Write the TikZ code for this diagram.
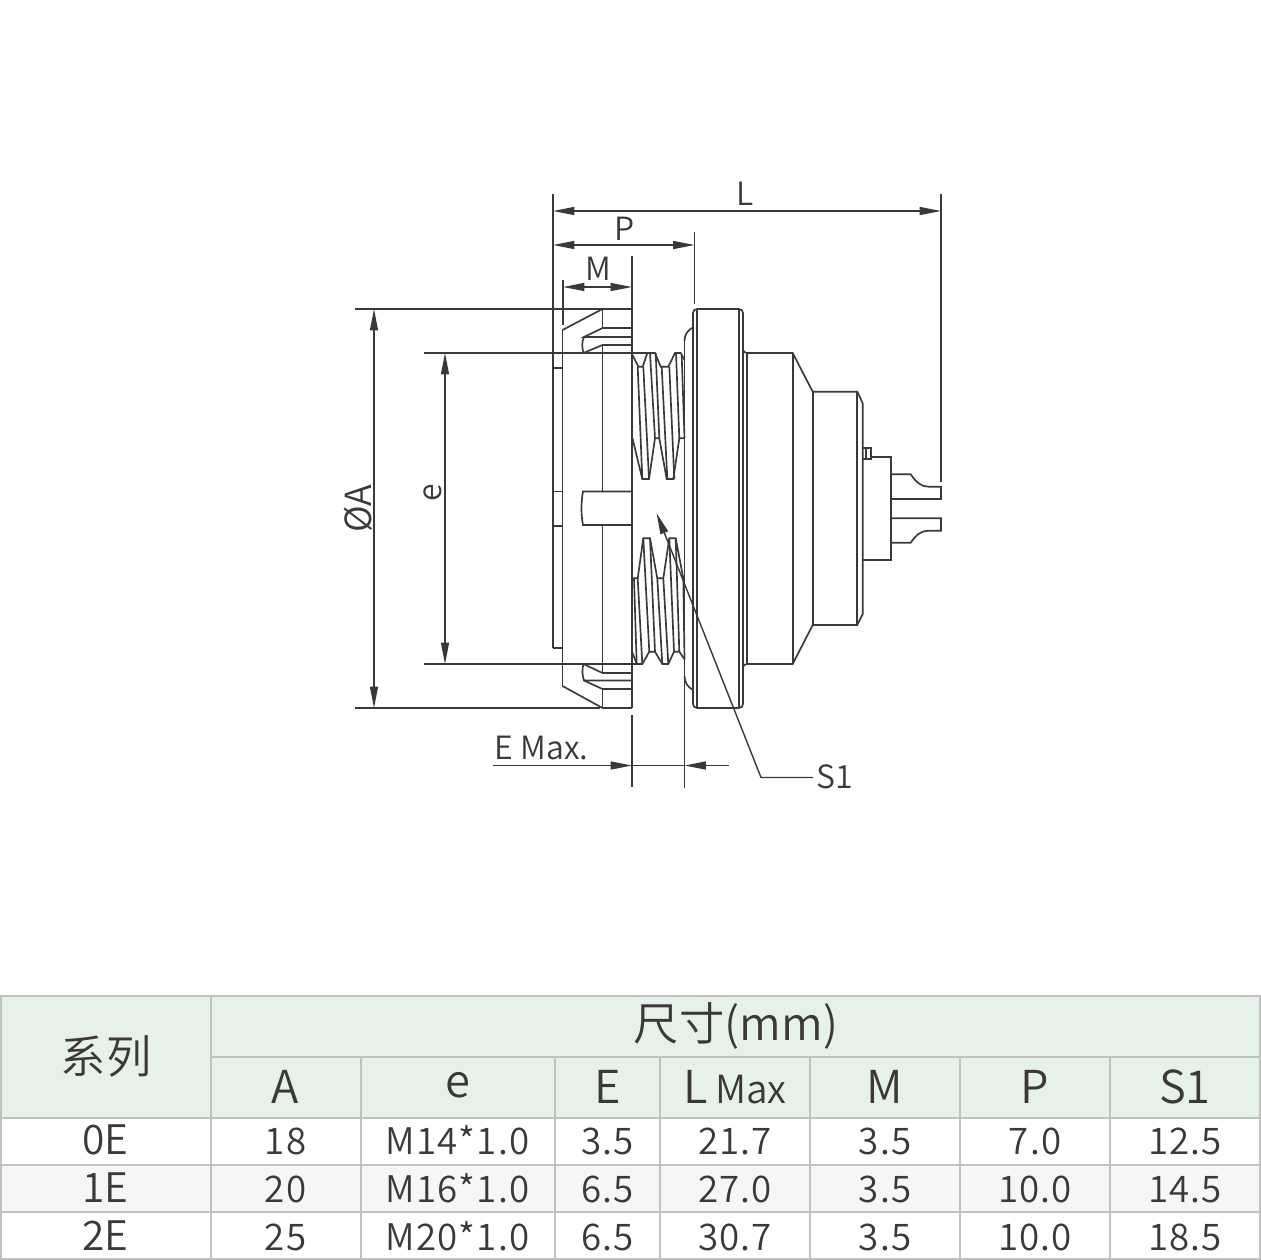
\documentclass[tikz,border=0pt]{standalone}
\usepackage{fontspec}
\setmainfont{Noto Sans CJK SC}[UprightFont=* DemiLight]
\usetikzlibrary{arrows.meta}
\definecolor{inkline}{RGB}{58,56,56}
\definecolor{gridline}{RGB}{192,194,193}
\definecolor{headfill}{RGB}{230,241,233}
\definecolor{rowfill}{RGB}{246,246,246}
\tikzset{
  partline/.style={draw=inkline,line width=1.25pt,line join=miter},
  extline/.style={draw=inkline,line width=1.05pt},
  dimline/.style={draw=inkline,line width=1.05pt,{Triangle[length=16pt,width=6pt]}-{Triangle[length=16pt,width=6pt]}},
  arrowend/.style={draw=inkline,line width=1.05pt,-{Triangle[length=16pt,width=6pt]}},
  dimtext/.style={inner sep=0pt,text=inkline,font=\fontsize{24}{28}\selectfont},
  celltext/.style={inner sep=0pt,anchor=base,text=inkline,font=\fontsize{27.5}{32}\selectfont\addfontfeatures{LetterSpace=3}},
  rowtext/.style={inner sep=0pt,anchor=base,text=inkline,font=\fontsize{30.5}{36}\selectfont},
  headtext/.style={inner sep=0pt,anchor=base,text=inkline,font=\fontsize{34}{38}\selectfont},
  gridrule/.style={draw=gridline,line width=1.5pt}
}
\begin{document}
\begin{tikzpicture}[x=0.75pt,y=0.75pt,yscale=-1,xscale=1]
\useasboundingbox (0,0) rectangle (1261,1260);
%Dimension Ends
\coordinate (lLeft) at (553,211);
\coordinate (lRight) at (941,211);
\coordinate (pLeft) at (553,245);
\coordinate (pRight) at (694.5,245);
\coordinate (mLeft) at (563,287);
\coordinate (mRight) at (632,287);
\coordinate (aTop) at (374,309);
\coordinate (aBottom) at (374,708);
\coordinate (eTop) at (445,353);
\coordinate (eBottom) at (445,664);
\coordinate (emaxStart) at (493,765.5);
\coordinate (emaxLeft) at (632,765.5);
\coordinate (emaxRight) at (684.5,765.5);
\coordinate (emaxEnd) at (729,765.5);
\coordinate (sTail) at (813,777.5);
\coordinate (sBend) at (761,777.5);
\coordinate (sTip) at (656.5,513);
%Extension Lines
\draw [extline] (553,194) -- (553,648);
\draw [extline] (941,194) -- (941,482);
\draw [extline] (694.5,232) -- (694.5,304);
\draw [extline] (632,256) -- (632,309);
\draw [extline] (563,280) -- (563,325);
\draw [extline] (355,309) -- (602,309);
\draw [extline] (355,708) -- (600,708);
\draw [extline] (424,353) -- (647,353);
\draw [extline] (424,664) -- (637,664);
\draw [extline] (632,715) -- (632,787);
\draw [extline] (684.5,341) -- (684.5,788);
%Dimension Lines
\draw [dimline] (lLeft) -- (lRight);
\draw [dimline] (pLeft) -- (pRight);
\draw [dimline] (mLeft) -- (mRight);
\draw [dimline] (aTop) -- (aBottom);
\draw [dimline] (eTop) -- (eBottom);
\draw [arrowend] (emaxStart) -- (emaxLeft);
\draw [extline] (emaxLeft) -- (emaxRight);
\draw [arrowend] (emaxEnd) -- (emaxRight);
\draw [arrowend] (sTail) -- (sBend) -- (sTip);
%Panel Nut
\draw [partline] (553,368) -- (562.5,368);
\draw [partline] (553,491.5) -- (562.5,491.5);
\draw [partline] (553,526) -- (562.5,526);
\draw [partline] (553,648) -- (562.5,648);
\draw [partline] (562.5,330) -- (562.5,686);
\draw [partline] (562.5,330) -- (602.5,309) -- (632,309);
\draw [partline] (562.5,686) -- (602.5,708) -- (632,708);
\draw [partline] (632,309) -- (632,708);
\draw [partline] (602.5,309) -- (602.5,328) -- (632,328);
\draw [partline] (602.5,328) -- (584,337) -- (632,337);
\draw [partline] (584,337) .. controls (581.5,342) and (582,348) .. (583.5,353) -- (602.5,345) -- (632,345);
\draw [partline] (602.5,345) -- (602.5,491.5);
\draw [partline] (632,491.5) -- (583,491.5) .. controls (581,502) and (581,515) .. (583,525) -- (632,525);
\draw [partline] (602.5,525) -- (602.5,673);
\draw [partline] (583.5,664) -- (602.5,673) -- (632,673);
\draw [partline] (583.5,664) .. controls (582,669) and (582,675) .. (584,680.5) -- (632,680.5);
\draw [partline] (584,680.5) -- (602.5,689) -- (632,689);
\draw [partline] (602.5,689) -- (602.5,708);
%Upper Thread
\draw [partline] (632.5,355) -- (638.3,366.7) -- (642.7,366.7) -- (647.3,353) -- (655,353) -- (660.7,366.7) -- (668.3,366.7) -- (675,353) -- (680.7,353) -- (684.5,360);
\draw [partline] (632.5,438.3) -- (642.3,479) -- (649,479) -- (655,438.3) -- (659.3,438.3) -- (666.7,479) -- (673.3,479) -- (679.3,438.3) -- (684.5,438.3);
\draw [partline] (637.7,366.7) -- (642.3,479);
\draw [partline] (643.3,366.7) -- (649,479);
\draw [partline] (650,353) -- (655,438.3);
\draw [partline] (655.7,353) -- (659.3,438.3);
\draw [partline] (661.7,366.7) -- (667.3,479);
\draw [partline] (669.3,366.7) -- (674.3,479);
\draw [partline] (676,353) -- (679.3,438.3);
\draw [partline] (681.7,355) -- (684.5,438.3);
%Lower Thread
\draw [partline] (632.5,578.3) -- (637.7,578.3) -- (643.3,538.3) -- (650,538.3) -- (657.3,578.3) -- (663.3,578.3) -- (669.3,538.3) -- (675.7,538.3) -- (683.3,578.3) -- (684.5,578.3);
\draw [partline] (632.5,652.7) -- (636.7,664) -- (642.3,664) -- (649.3,651.7) -- (655,651.7) -- (662.3,664) -- (668.3,664) -- (674,651.7) -- (679.3,651.7) -- (684.5,659.3);
\draw [partline] (634,578.3) -- (636.7,664);
\draw [partline] (637.7,578.3) -- (642.3,664);
\draw [partline] (643.3,538.3) -- (649.3,651.7);
\draw [partline] (650,538.3) -- (655,651.7);
\draw [partline] (657.3,578.3) -- (662.3,664);
\draw [partline] (663.3,578.3) -- (668.3,664);
\draw [partline] (669.3,538.3) -- (674,651.7);
\draw [partline] (675.7,538.3) -- (679.3,651.7);
\draw [partline] (683.3,578.3) -- (684.5,659.3);
%Flange
\draw [partline] (684.5,341) .. controls (684.5,334) and (688,330) .. (693,327.5);
\draw [partline] (684.5,676) .. controls (684.5,683) and (688,687) .. (693,690);
\draw [partline,rounded corners=3pt] (693,309) rectangle (743,708);
\draw [partline] (697,309) -- (697,708);
\draw [partline] (739,309) -- (739,708);
%Body
\draw [partline] (743,350) .. controls (744,352) and (745,353) .. (747,353) -- (792.7,353) -- (812.7,391.7) -- (857.3,391.7) -- (862.7,403.3) -- (862.7,614) -- (857.3,625) -- (812.7,625) -- (792.7,664) -- (747,664) .. controls (745,664) and (744,665) .. (743,667);
\draw [partline] (747,353) -- (747,664);
\draw [partline] (792.7,353) -- (792.7,664);
\draw [partline] (812.7,391.7) -- (812.7,625);
\draw [partline] (857.3,391.7) -- (857.3,625);
%Rear Contacts
\draw [partline] (862.7,447.7) -- (871,447.7) -- (871,459.3) -- (862.7,459.3);
\draw [partline] (866,447.7) -- (866,459.3);
\draw [partline] (871,457) -- (890.7,457) -- (890.7,560) -- (862.7,560);
\draw [partline] (890.7,474.3) -- (910.7,474.3) .. controls (916,482) and (921,486.7) .. (928.3,486.7) -- (941,486.7) -- (941,499) -- (890.7,499);
\draw [partline] (890.7,518.3) -- (941,518.3) -- (941,530.7) -- (928.3,530.7) .. controls (921,530.7) and (916,535) .. (910.7,542.7) -- (890.7,542.7);
% Text Node
\node [dimtext] (labelL) at (745,194) {L};
\node [dimtext] (labelP) at (625,229) {P};
\node [dimtext] (labelM) at (598,269) {M};
\node [dimtext,rotate=90,font=\fontsize{27}{32}\selectfont] (labelA) at (358.5,509) {ØA};
\node [dimtext,rotate=90] (labelE) at (433,493) {e};
\node [dimtext] (labelEmax) at (541.5,748) {E Max.};
\node [dimtext] (labelS) at (835,777) {S1};
%Table Fills
\fill [headfill] (0,996) rectangle (1261,1117.5);
\fill [rowfill] (0,1165) rectangle (1261,1212);
%Table Rules
\draw [gridrule] (1,996) rectangle (1260,1258.5);
\draw [gridrule] (211,1057) -- (1260,1057);
\draw [gridrule] (0,1117.5) -- (1261,1117.5);
\draw [gridrule] (0,1165) -- (1261,1165);
\draw [gridrule] (0,1212) -- (1261,1212);
\draw [gridrule] (211,996) -- (211,1258);
\draw [gridrule] (361,1057) -- (361,1258);
\draw [gridrule] (555,1057) -- (555,1258);
\draw [gridrule] (660,1057) -- (660,1258);
\draw [gridrule] (810,1057) -- (810,1258);
\draw [gridrule] (960,1057) -- (960,1258);
\draw [gridrule] (1110,1057) -- (1110,1258);
% Text Node
\node [headtext] (headSeries) at (106,1073) {系列};
\node [headtext] (headSize) at (736,1040) {尺寸(mm)};
\node [headtext] (headA) at (285.5,1103) {A};
\node [headtext] (headE) at (457.5,1097) {e};
\node [headtext] (headEE) at (607.5,1103) {E};
\node [headtext] (headL) at (735,1103) {L\,\fontsize{29}{32}\selectfont Max};
\node [headtext] (headM) at (885,1103) {M};
\node [headtext] (headP) at (1035,1103) {P};
\node [headtext] (headS) at (1185,1103) {S1};
% Text Node
\node [rowtext] (rowA0) at (105.5,1154) {0E};
\node [celltext] (colA0) at (285.5,1154) {18};
\node [celltext] (cole0) at (457.5,1154) {M14*1.0};
\node [celltext] (colE0) at (607.5,1154) {3.5};
\node [celltext] (colL0) at (735,1154) {21.7};
\node [celltext] (colM0) at (885,1154) {3.5};
\node [celltext] (colP0) at (1035,1154) {7.0};
\node [celltext] (colS0) at (1185,1154) {12.5};
% Text Node
\node [rowtext] (rowA1) at (105.5,1202) {1E};
\node [celltext] (colA1) at (285.5,1202) {20};
\node [celltext] (cole1) at (457.5,1202) {M16*1.0};
\node [celltext] (colE1) at (607.5,1202) {6.5};
\node [celltext] (colL1) at (735,1202) {27.0};
\node [celltext] (colM1) at (885,1202) {3.5};
\node [celltext] (colP1) at (1035,1202) {10.0};
\node [celltext] (colS1) at (1185,1202) {14.5};
% Text Node
\node [rowtext] (rowA2) at (105.5,1250) {2E};
\node [celltext] (colA2) at (285.5,1250) {25};
\node [celltext] (cole2) at (457.5,1250) {M20*1.0};
\node [celltext] (colE2) at (607.5,1250) {6.5};
\node [celltext] (colL2) at (735,1250) {30.7};
\node [celltext] (colM2) at (885,1250) {3.5};
\node [celltext] (colP2) at (1035,1250) {10.0};
\node [celltext] (colS2) at (1185,1250) {18.5};
\end{tikzpicture}
\end{document}
